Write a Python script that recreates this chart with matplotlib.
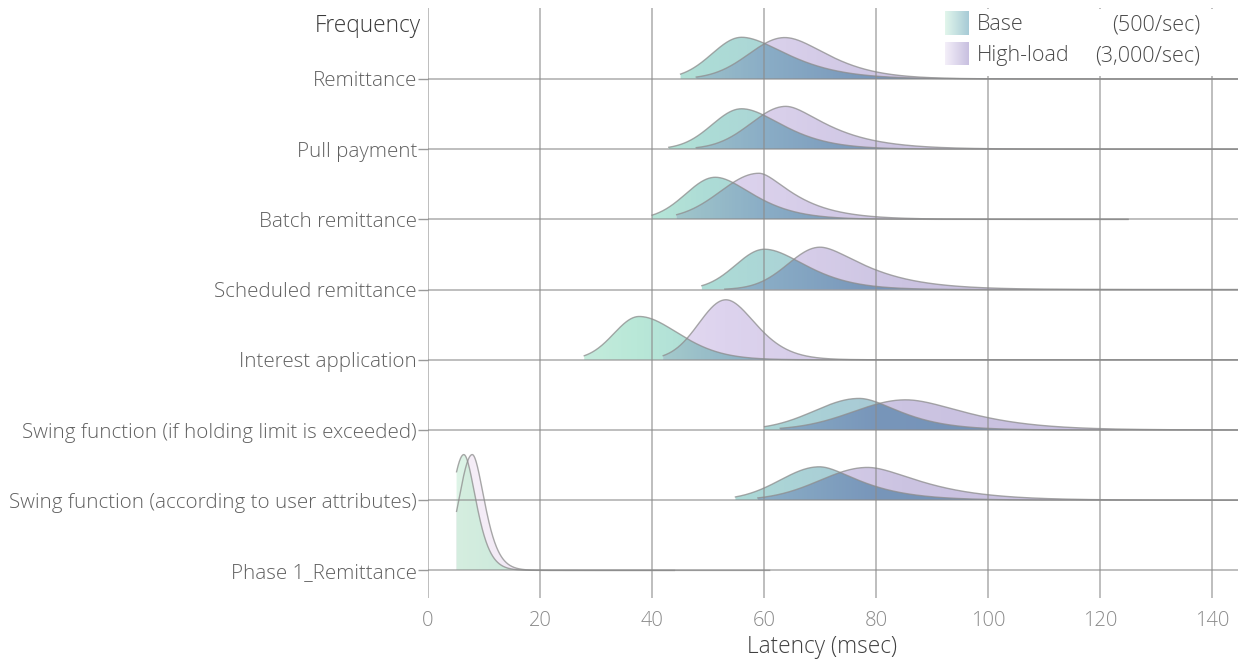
import numpy as np
import matplotlib
matplotlib.use("Agg")
import matplotlib.pyplot as plt
from matplotlib import font_manager
from matplotlib.colors import LinearSegmentedColormap
from matplotlib.patches import PathPatch, Rectangle
from matplotlib.path import Path

# ---------------- data ----------------
categories = ["Phase 1_Remittance",
              "Swing function (according to user attributes)",
              "Swing function (if holding limit is exceeded)",
              "Interest application",
              "Scheduled remittance",
              "Batch remittance",
              "Pull payment",
              "Remittance"]

# Base (500/sec) latency distributions: mode, peak height (ridge units),
# half widths at half max (left/right), tail skew, min and max latency
base_mode = [6.4, 69.9, 77.0, 37.7, 60.1, 51.3, 56.0, 56.0]
base_peak = [1.65, 0.476, 0.45, 0.617, 0.575, 0.60, 0.576, 0.594]
base_hwhm_left = [2.7, 8.2, 9.4, 5.3, 6.1, 6.2, 6.2, 6.2]
base_hwhm_right = [2.6, 8.5, 8.5, 8.4, 8.8, 8.0, 8.7, 9.7]
base_skew = [6, 8, 12, 40, 19, 15, 18, 15]
base_min = [5.1, 54.9, 60.1, 27.9, 48.9, 40.0, 43.0, 45.1]
base_max = [44, 145, 145, 145, 145, 125, 145, 145]

# High-load (3,000/sec)
high_mode = [7.9, 78.5, 85.3, 53.2, 70.0, 59.1, 63.9, 63.7]
high_peak = [1.65, 0.467, 0.43, 0.855, 0.604, 0.657, 0.61, 0.59]
high_hwhm_left = [2.84, 10.0, 11.0, 5.7, 6.7, 8.1, 7.3, 7.5]
high_hwhm_right = [2.6, 11.0, 12.5, 6.3, 9.3, 7.0, 8.6, 9.0]
high_skew = [6, 11, 18, 20, 7.5, 5, 7, 16]
high_min = [5.1, 58.9, 62.9, 42.0, 53.0, 44.4, 47.9, 47.9]
high_max = [61, 145, 145, 145, 145, 125, 145, 145]

x_ticks = [0, 20, 40, 60, 80, 100, 120, 140]
legend_labels = [("Base", "(500/sec)"), ("High-load", "(3,000/sec)")]

# ---------------- style ----------------
def pick_font():
    for fam in ["Open Sans", "Lato", "Roboto", "Noto Sans", "Inter"]:
        for f in font_manager.fontManager.ttflist:
            w = f.weight
            if f.name == fam and isinstance(w, int) and w <= 300:
                return fam, "light"
    return "Open Sans", "normal"

FAM, WEIGHT = pick_font()
plt.rcParams["font.family"] = [FAM, "DejaVu Sans"]
plt.rcParams["font.weight"] = WEIGHT

XMAX = 144.64
LN2 = np.log(2.0)

def stops_cmap(name, stops):
    return LinearSegmentedColormap.from_list(
        name, [(p / XMAX, c) for p, c in stops])

cm_base = stops_cmap("b", [(0, "#e3f6ea"), (15, "#d3f0e1"), (37, "#b9e8d8"),
                           (50, "#addcd6"), (77, "#a9ccd6"), (XMAX, "#a0bdd3")])
cm_high = stops_cmap("h", [(0, "#f9f1f9"), (15, "#f2eaf6"), (53, "#ddd3ee"),
                           (64, "#d8cfea"), (85, "#ccc4e2"), (XMAX, "#c3bbdc")])
cm_over = stops_cmap("o", [(0, "#d9f0e1"), (15, "#cce9dc"), (45, "#9fc5ca"),
                           (60, "#8aadc6"), (80, "#7896ba"), (XMAX, "#6f8ab3")])


def density(x, mode, peak, hl, hr, k):
    d = x - mode
    sl2 = hl ** 2 / (2 * LN2)
    sr2 = hr ** 2 / ((1 + hr / k) * 2 * LN2)
    left = np.exp(-d ** 2 / (2 * sl2))
    dd = np.maximum(d, 0)
    right = np.exp(-dd ** 2 / (2 * sr2 * (1 + dd / k)))
    return peak * np.where(d < 0, left, right)


fig = plt.figure(figsize=(12.38, 6.61), dpi=100)
ax = fig.add_axes([428 / 1238, (661 - 598) / 661, 810 / 1238, 590 / 661])
YMIN, YMAX = -0.393, 8.011


def grad_fill(xs, ys, base_y, cmap, z):
    verts = np.vstack([[xs[0], base_y]] + [np.column_stack([xs, base_y + ys])]
                      + [[xs[-1], base_y]])
    patch = PathPatch(Path(verts), facecolor="none", edgecolor="none")
    patch.set_transform(ax.transData)
    grad = np.linspace(0, 1, 600)[None, :]
    im = ax.imshow(grad, extent=[0, XMAX, base_y, base_y + ys.max() + 0.05],
                   origin="lower", aspect="auto", cmap=cmap, vmin=0, vmax=1,
                   interpolation="bilinear", zorder=z)
    im.set_clip_path(patch)


for i in range(len(categories) - 1, -1, -1):
    z = 2 + (len(categories) - i) * 0.5
    xb = np.linspace(base_min[i], base_max[i], 1200)
    yb = density(xb, base_mode[i], base_peak[i], base_hwhm_left[i],
                 base_hwhm_right[i], base_skew[i])
    xh = np.linspace(high_min[i], high_max[i], 1200)
    yh = density(xh, high_mode[i], high_peak[i], high_hwhm_left[i],
                 high_hwhm_right[i], high_skew[i])
    lo = max(base_min[i], high_min[i])
    hi = min(base_max[i], high_max[i])
    xo = np.linspace(lo, hi, 1200)
    yo = np.minimum(
        density(xo, base_mode[i], base_peak[i], base_hwhm_left[i],
                base_hwhm_right[i], base_skew[i]),
        density(xo, high_mode[i], high_peak[i], high_hwhm_left[i],
                high_hwhm_right[i], high_skew[i]))
    grad_fill(xb, yb, i, cm_base, z)
    grad_fill(xh, yh, i, cm_high, z + 0.1)
    grad_fill(xo, yo, i, cm_over, z + 0.2)
    ax.plot(xb, i + yb, color="#8c8c8c", lw=1.0, alpha=0.75, zorder=z + 0.3)
    ax.plot(xh, i + yh, color="#8c8c8c", lw=1.0, alpha=0.75, zorder=z + 0.35)

# grid on top
for xv in x_ticks:
    ax.plot([xv, xv], [YMIN, YMAX], color="#8a8a8a", lw=1.1, alpha=0.7,
            zorder=40, solid_capstyle="butt")
for i in range(len(categories)):
    ax.plot([0, XMAX], [i, i], color="#8a8a8a", lw=1.1, alpha=0.7, zorder=40,
            solid_capstyle="butt")

ax.set_xlim(0, XMAX)
ax.set_ylim(YMIN, YMAX)
for s in ax.spines.values():
    s.set_visible(False)

ax.set_xticks(x_ticks)
ax.set_xticklabels([str(v) for v in x_ticks])
ax.tick_params(axis="x", length=0, pad=9, labelsize=14.5, labelcolor="#8a8a8a")
ax.set_yticks(range(len(categories)))
ax.set_yticklabels(categories)
ax.tick_params(axis="y", length=7, width=1, color="#9a9a9a", pad=1,
               labelsize=14.8, labelcolor="#606060")

fig.text(822 / 1238, 1 - 647 / 661, "Latency (msec)", ha="center",
         va="center", fontsize=16.3, color="#404040")
fig.text(421 / 1238, 1 - 26 / 661, "Frequency", ha="right", va="center",
         fontsize=16.3, color="#3a3a3a")

# legend
def px2d(px, py):
    return (px - 428) / 5.6, 7 + (79 - py) / 70.2

x0, y0 = px2d(935, 76)
x1, y1 = px2d(1238, 9)
ax.add_patch(Rectangle((x0, y0), x1 - x0, y1 - y0, facecolor="white",
                       edgecolor="none", zorder=60))
sw_cmaps = [stops_cmap("lb", [(0, "#e2f6ec"), (XMAX, "#a7cbd6")]),
            stops_cmap("lh", [(0, "#f4eff9"), (XMAX, "#c8c0e0")])]
sw_rows = [(12, 35, 25), (43, 65, 56)]
for (t, b, c), cmap, (lab, rate) in zip(sw_rows, sw_cmaps, legend_labels):
    sx0, sy0 = px2d(945, b)
    sx1, sy1 = px2d(968, t)
    ax.imshow(np.linspace(0, 1, 50)[None, :], extent=[sx0, sx1, sy0, sy1],
              aspect="auto", cmap=cmap, zorder=61, interpolation="bilinear")
    tx, ty = px2d(977, c)
    ax.text(tx, ty, lab, ha="left", va="center", fontsize=15.5,
            color="#4a4a4a", zorder=62)
    rx, _ = px2d(1200, c)
    ax.text(rx, ty, rate, ha="right", va="center", fontsize=15.5,
            color="#4a4a4a", zorder=62)

ax.set_xlim(0, XMAX)
ax.set_ylim(YMIN, YMAX)
fig.savefig("out.png", dpi=100, facecolor="white")
